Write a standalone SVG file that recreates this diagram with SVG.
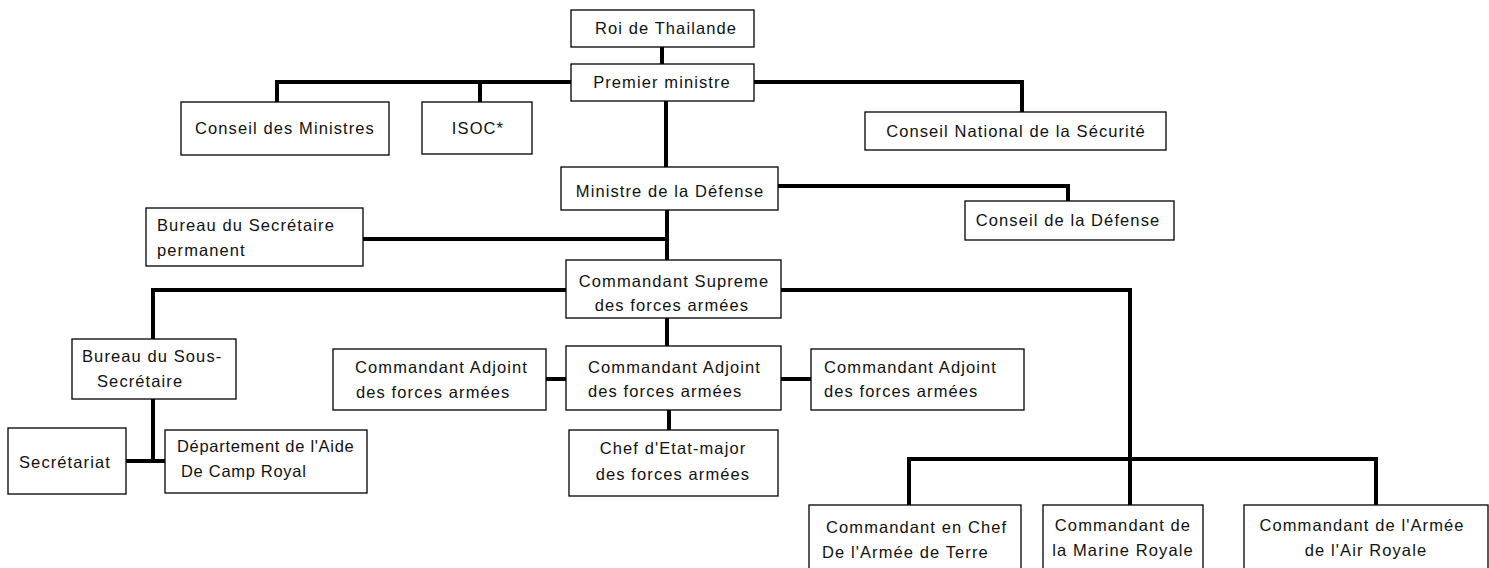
<svg xmlns="http://www.w3.org/2000/svg" width="1489" height="568" viewBox="0 0 1489 568">
<style>
.b{fill:#fff;stroke:#000;stroke-width:1.3}
.t{font-family:"Liberation Sans",Arial,sans-serif;font-size:16.5px;letter-spacing:1.1px;fill:#111}
.m{text-anchor:middle}
.n{letter-spacing:0.7px}
.c{fill:none;stroke:#000;stroke-width:4}
</style>
<rect width="1489" height="568" fill="#fff"/>
<g id="connectors">
<path class="c" d="M662,46V64"/>
<path class="c" d="M277,102V82H571M480,82V102M754,82H1022V112"/>
<path class="c" d="M666,101V167"/>
<path class="c" d="M778,186H1068V201"/>
<path class="c" d="M667,210V260M363,239H667"/>
<path class="c" d="M566,290H153V339M781,290H1130V459"/>
<path class="c" d="M153,399V461M126,461H165"/>
<path class="c" d="M667,318V346"/>
<path class="c" d="M546,379H566M781,379H811"/>
<path class="c" d="M669,410V430"/>
<path class="c" d="M909,505V459H1376V505M1130,459V505"/>
</g>
<g id="roi"><rect class="b" x="571" y="10" width="183" height="37"/><text class="t m" x="666" y="34">Roi de Thailande</text></g>
<g id="premier"><rect class="b" x="571" y="64" width="183" height="37"/><text class="t m" x="662" y="88">Premier ministre</text></g>
<g id="conseil-ministres"><rect class="b" x="181" y="102" width="208" height="53"/><text class="t m" x="285" y="134">Conseil des Ministres</text></g>
<g id="isoc"><rect class="b" x="422" y="102" width="110" height="52"/><text class="t m" x="478" y="134">ISOC*</text></g>
<g id="cns"><rect class="b" x="865" y="112" width="301" height="38"/><text class="t m" x="1016" y="137">Conseil National de la Sécurité</text></g>
<g id="ministre"><rect class="b" x="561" y="167" width="217" height="43"/><text class="t m" x="670" y="197">Ministre de la Défense</text></g>
<g id="conseil-defense"><rect class="b" x="965" y="201" width="209" height="39"/><text class="t m" x="1068" y="226">Conseil de la Défense</text></g>
<g id="bureau-secretaire"><rect class="b" x="146" y="208" width="217" height="58"/><text class="t" x="157" y="231">Bureau du Secrétaire</text><text class="t" x="157" y="256">permanent</text></g>
<g id="supreme"><rect class="b" x="566" y="260" width="215" height="58"/><text class="t m" x="674" y="287">Commandant Supreme</text><text class="t m" x="672" y="311">des forces armées</text></g>
<g id="bureau-sous"><rect class="b" x="72" y="339" width="164" height="60"/><text class="t" x="82" y="362">Bureau du Sous-</text><text class="t" x="97" y="387">Secrétaire</text></g>
<g id="secretariat"><rect class="b" x="8" y="428" width="118" height="66"/><text class="t" x="19" y="468">Secrétariat</text></g>
<g id="aide-camp"><rect class="b" x="165" y="430" width="202" height="63"/><text class="t n" x="177" y="452">Département de l'Aide</text><text class="t n" x="181" y="477">De Camp Royal</text></g>
<g id="adjoint-left"><rect class="b" x="333" y="349" width="213" height="61"/><text class="t" x="355" y="373">Commandant Adjoint</text><text class="t" x="356" y="398">des forces armées</text></g>
<g id="adjoint-center"><rect class="b" x="566" y="346" width="215" height="64"/><text class="t" x="588" y="373">Commandant Adjoint</text><text class="t" x="588" y="397">des forces armées</text></g>
<g id="adjoint-right"><rect class="b" x="811" y="349" width="213" height="61"/><text class="t" x="824" y="373">Commandant Adjoint</text><text class="t" x="824" y="397">des forces armées</text></g>
<g id="chef"><rect class="b" x="569" y="430" width="209" height="66"/><text class="t m" x="673" y="454">Chef d'Etat-major</text><text class="t m" x="673" y="480">des forces armées</text></g>
<g id="terre"><rect class="b" x="809" y="505" width="212" height="70"/><text class="t" x="826" y="533">Commandant en Chef</text><text class="t" x="822" y="558">De l'Armée de Terre</text></g>
<g id="marine"><rect class="b" x="1043" y="505" width="160" height="70"/><text class="t m" x="1123" y="531">Commandant de</text><text class="t m" x="1123" y="556">la Marine Royale</text></g>
<g id="air"><rect class="b" x="1244" y="505" width="244" height="70"/><text class="t m" x="1362" y="531">Commandant de l'Armée</text><text class="t m" x="1366" y="556">de l'Air Royale</text></g>
</svg>
